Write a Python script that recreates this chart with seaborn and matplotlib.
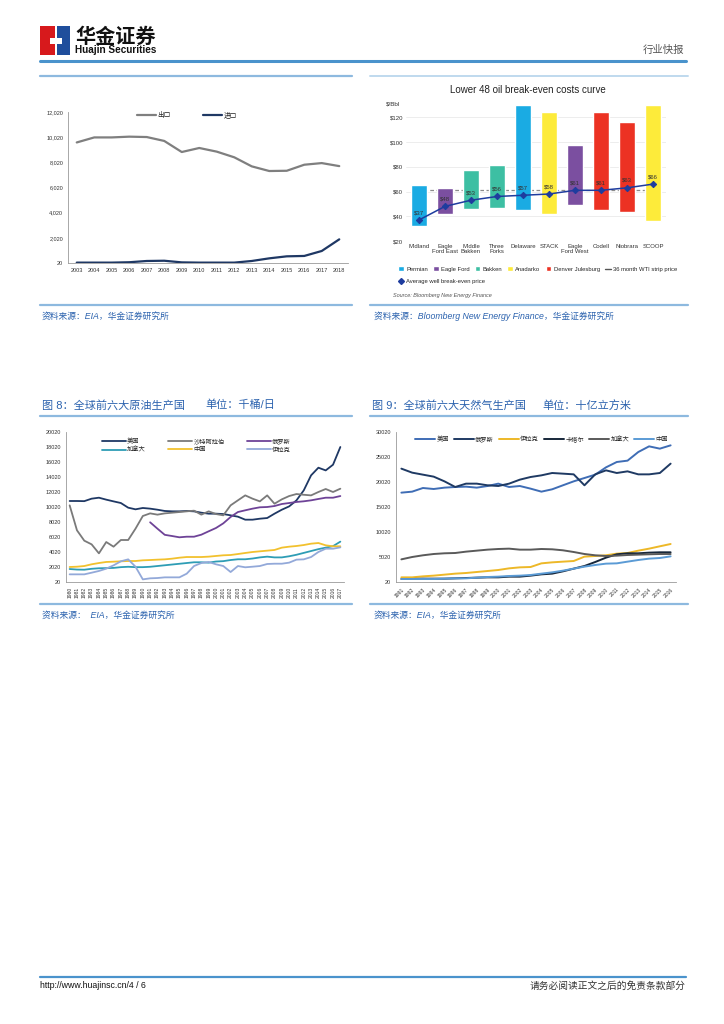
import matplotlib
matplotlib.use("Agg")
import matplotlib.pyplot as plt
from matplotlib.lines import Line2D
from matplotlib.patches import Patch, Rectangle
import numpy as np
import pandas as pd
import seaborn as sns

sns.set_style("white")
plt.rcParams["font.family"] = ["Liberation Sans", "Noto Sans CJK SC", "DejaVu Sans"]
plt.rcParams["axes.unicode_minus"] = False

W, H = 724, 1024

# ---------------- data ----------------
# chart 1: exports / imports
c1_years = list(range(2003, 2019))
c1_export = [9600, 10000, 10000, 10060, 10030, 9720, 8840, 9160, 8870, 8420, 7700, 7330, 7350, 7830, 7960, 7720]
c1_import = [50, 50, 50, 80, 180, 200, 70, 50, 50, 50, 180, 390, 550, 580, 975, 1900]

# chart 2: break-even costs
c2_plays = ["Midland", "Eagle\nFord East", "Middle\nBakken", "Three\nForks", "Delaware",
            "STACK", "Eagle\nFord West", "Codell", "Niobrara", "SCOOP"]
c2_basin = ["Permian", "Eagle Ford", "Bakken", "Bakken", "Permian",
            "Anadarko", "Eagle Ford", "Denver Julesburg", "Denver Julesburg", "Anadarko"]
c2_low = [32, 42, 45.5, 47, 45.3, 41.5, 48.8, 44.8, 43.7, 36.4]
c2_high = [65, 63, 77.5, 81.7, 130, 124, 98, 124.6, 116, 130]
c2_avg = [37, 48, 53, 56, 57, 58, 61, 61, 63, 66]
c2_wti = 61
c2_basin_colors = {"Permian": "#1AABE3", "Eagle Ford": "#7B4FA0", "Bakken": "#3DBFA3",
                   "Anadarko": "#FDEB3A", "Denver Julesburg": "#EC3223"}

# chart 8: crude oil producers, 1980-2017
c8_years = list(range(1980, 2018))
c8_us = [10820, 10820, 10800, 11130, 11260, 11000, 10770, 10550, 9930, 9710,
         9890, 9800, 9660, 9490, 9440, 9440, 9490, 9440, 9260, 9130,
         9130, 9080, 8910, 8730, 8330, 8330, 8460, 8550, 9130, 9660,
         10100, 10900, 12240, 14240, 15260, 14900, 15660, 18020]
c8_saudi = [10240, 6910, 5530, 5040, 3840, 5350, 4730, 5620, 5620, 7130,
            8820, 9170, 9000, 9170, 9260, 9350, 9440, 9530, 9000, 9440,
            9080, 8910, 10240, 10910, 11570, 11130, 10770, 11570, 10460, 11040,
            11480, 11750, 11650, 11570, 12020, 12420, 12020, 12460]
c8_russia = [np.nan] * 11 + [7980, 7130, 6310, 6150, 5980, 6060, 6060, 6330, 6780,
                             7220, 7840, 8690, 9350, 9580, 9800, 9980, 10020, 10150, 10420,
                             10550, 10690, 10780, 10910, 11090, 11260, 11260, 11480]
c8_canada = [1750, 1680, 1660, 1780, 1850, 1870, 1900, 2000, 2050, 2000,
             2000, 2050, 2150, 2250, 2350, 2450, 2550, 2650, 2650, 2600,
             2750, 2800, 2950, 3050, 3050, 3150, 3300, 3400, 3300, 3300,
             3450, 3650, 3900, 4150, 4400, 4600, 4800, 5400]
c8_china = [2020, 2060, 2150, 2380, 2550, 2690, 2730, 2780, 2820, 2820,
            2910, 2950, 3000, 3040, 3130, 3260, 3350, 3350, 3350, 3400,
            3490, 3580, 3620, 3750, 3890, 4020, 4110, 4200, 4290, 4600,
            4730, 4820, 4950, 5130, 5220, 4910, 4780, 4780]
c8_iraq = [1040, 1040, 1040, 1260, 1490, 1800, 2240, 2780, 3040, 2060,
           370, 510, 550, 640, 640, 640, 1130, 2150, 2550, 2690,
           2380, 2150, 1350, 2150, 1980, 2060, 2150, 2420, 2460, 2460,
           2600, 3000, 3040, 3350, 4020, 4460, 4460, 4640]

# chart 9: natural gas producers, 1991-2016
c9_years = list(range(1991, 2017))
c9_us = [17890, 18090, 18820, 18620, 18890, 19020, 19090, 18890, 19220, 19690,
         19020, 19220, 18690, 18090, 18560, 19360, 20150, 20820, 21490, 22950,
         24020, 24290, 26020, 27150, 26690, 27350]
c9_russia = [22690, 21890, 21490, 21090, 20150, 19020, 19690, 19690, 19360, 19220,
             19690, 20490, 21020, 21350, 21820, 21690, 21550, 19360, 21550, 22350,
             21820, 22150, 21550, 21550, 21820, 23690]
c9_iran = [950, 950, 1150, 1290, 1490, 1690, 1820, 2020, 2220, 2420,
           2750, 2950, 3020, 3750, 3950, 4090, 4220, 5090, 5220, 5360,
           5690, 5820, 6290, 6690, 7160, 7620]
c9_qatar = [620, 620, 690, 690, 690, 750, 820, 890, 950, 950,
            1090, 1090, 1290, 1550, 1690, 2150, 2690, 3220, 4020, 4890,
            5560, 5760, 5760, 5890, 5960, 5960]
c9_canada = [4550, 5020, 5360, 5620, 5760, 5820, 6090, 6290, 6490, 6620,
             6690, 6490, 6490, 6620, 6560, 6360, 6020, 5620, 5360, 5220,
             5290, 5420, 5490, 5560, 5620, 5620]
c9_china = [620, 620, 620, 620, 690, 750, 750, 890, 1020, 1090,
            1220, 1290, 1420, 1690, 1950, 2290, 2690, 3090, 3420, 3690,
            3750, 4090, 4420, 4690, 4820, 5150]

BLUE_TXT = "#2B62AE"
RULE = "#8DB9DF"

fig = plt.figure(figsize=(W / 100, H / 100), dpi=100)
fig.patch.set_facecolor("white")


def add_ax(x0, y0, x1, y1):
    return fig.add_axes([x0 / W, 1 - y1 / H, (x1 - x0) / W, (y1 - y0) / H])


def ftext(x, y, s, **kw):
    return fig.text(x / W, 1 - y / H, s, **kw)


def hrule(x0, x1, y, color=RULE, lw=1.6):
    fig.add_artist(Line2D([x0 / W, x1 / W], [1 - y / H, 1 - y / H],
                          transform=fig.transFigure, color=color, lw=lw))


def style_line_axes(ax):
    sns.despine(ax=ax)
    for s in ["left", "bottom"]:
        ax.spines[s].set_color("#9A9A9A")
        ax.spines[s].set_linewidth(0.6)
    ax.tick_params(axis="both", labelsize=4, length=2, width=0.5, color="#9A9A9A",
                   pad=1.5, labelcolor="#333333")


# ---------------- header / footer ----------------
fig.add_artist(Rectangle((40 / W, 1 - 55 / H), 15 / W, 29 / H, transform=fig.transFigure,
                         color="#D7191C", lw=0))
fig.add_artist(Rectangle((57 / W, 1 - 55 / H), 13 / W, 29 / H, transform=fig.transFigure,
                         color="#1F4E9C", lw=0))
fig.add_artist(Rectangle((50 / W, 1 - 44 / H), 12 / W, 6 / H, transform=fig.transFigure,
                         color="white", lw=0))
ftext(75, 36, "华金证券", fontsize=14.5, fontweight="bold", color="#111111", va="center",
      family=["Noto Sans CJK SC"])
ftext(75, 50, "Huajin Securities", fontsize=7.2, fontweight="bold", color="#111111", va="center")
ftext(684, 50, "行业快报", fontsize=7.5, color="#555555", ha="right", va="center")
hrule(40, 686, 61, color="#4A93CC", lw=2.2)

hrule(40, 686, 977, color="#4A93CC", lw=1.6)
ftext(40, 986, "http://www.huajinsc.cn/4 / 6", fontsize=6.3, color="#111111", va="center")
ftext(686, 986, "请务必阅读正文之后的免责条款部分", fontsize=7, color="#333333", ha="right", va="center")

# ---------------- chart 1 ----------------
hrule(40, 352, 76)
ax1 = add_ax(68, 112, 348, 263)
df1 = pd.DataFrame({"year": c1_years * 2,
                    "value": c1_export + c1_import,
                    "kind": ["出口"] * len(c1_years) + ["进口"] * len(c1_years)})
sns.lineplot(data=df1, x="year", y="value", hue="kind", hue_order=["出口", "进口"],
             palette=["#7F7F7F", "#1F3864"], linewidth=1.6, ax=ax1)
ax1.set_xlim(2002.5, 2018.5)
ax1.set_ylim(20, 12020)
ax1.set_yticks(np.arange(20, 12021, 2000))
ax1.set_yticklabels([f"{v:,}" for v in range(20, 12021, 2000)])
ax1.set_xticks(c1_years)
ax1.set_xlabel("")
ax1.set_ylabel("")
style_line_axes(ax1)
ax1.legend(loc="upper center", bbox_to_anchor=(0.425, 1.04), ncol=2, frameon=False,
           fontsize=4.8, handlelength=2.9, columnspacing=4.8, handletextpad=0.2)
hrule(40, 352, 305)
ftext(42, 316, "资料来源：EIA，华金证券研究所", fontsize=6.3, color=BLUE_TXT, va="center",
      style="italic")

# ---------------- chart 2 ----------------
hrule(370, 688, 76, color="#BFD9EE", lw=1.4)
ax2 = add_ax(406, 105, 666, 241)
x2 = np.arange(len(c2_plays))
ax2.hlines(c2_wti, -0.3, len(c2_plays) - 0.7, colors="#8C8C8C", linestyles=(0, (3, 2)),
           lw=0.9, zorder=1)
ax2.bar(x2, np.array(c2_high) - np.array(c2_low), bottom=c2_low, width=0.6,
        color=[c2_basin_colors[b] for b in c2_basin], zorder=2)
df2 = pd.DataFrame({"x": x2, "avg": c2_avg})
sns.lineplot(data=df2, x="x", y="avg", color="#1E3C9E", marker="D", markersize=3.2,
             markeredgecolor="#1E3C9E", linewidth=1.1, ax=ax2, zorder=3)
for xi, v in zip(x2, c2_avg):
    ax2.text(xi, v + 4, f"${v}", ha="center", va="bottom", fontsize=4.3, color="#333333", zorder=4)
ax2.set_xlim(-0.5, len(c2_plays) - 0.5)
ax2.set_ylim(20, 130)
ax2.set_yticks(range(20, 121, 20))
ax2.set_yticklabels([f"${v}" for v in range(20, 121, 20)])
ax2.set_xticks(x2)
ax2.set_xticklabels(c2_plays, linespacing=1.0)
ax2.set_xlabel("")
ax2.set_ylabel("")
ax2.grid(axis="y", color="#E6E6E6", lw=0.5, zorder=0)
ax2.set_axisbelow(True)
for s in ax2.spines.values():
    s.set_visible(False)
ax2.tick_params(axis="both", labelsize=4.3, length=0, pad=2, labelcolor="#333333")
ftext(528, 90, "Lower 48 oil break-even costs curve", fontsize=7, color="#222222",
      ha="center", va="center")
ftext(386, 104, "$/Bbl", fontsize=4.5, color="#333333", va="center")
h_basin = [Patch(facecolor=c2_basin_colors[k], label=k) for k in c2_basin_colors]
h_basin.append(Line2D([], [], color="#555555", lw=1.0, label="36 month WTI strip price"))
leg2 = ax2.legend(handles=h_basin, loc="upper left", bbox_to_anchor=(-0.04, -0.17), ncol=6,
                  frameon=False, fontsize=4.2, handlelength=1.0, handleheight=0.9,
                  handletextpad=0.4, columnspacing=0.85, borderaxespad=0)
ax2.add_artist(leg2)
h_avg = [Line2D([], [], color="#1E3C9E", marker="D", markersize=3, lw=0,
                label="Average well break-even price")]
ax2.legend(handles=h_avg, loc="upper left", bbox_to_anchor=(-0.04, -0.265), frameon=False,
           fontsize=4.2, handlelength=1.0, handletextpad=0.4, borderaxespad=0)
ftext(393, 295, "Source: Bloomberg New Energy Finance", fontsize=4, color="#555555",
      style="italic", va="center")
hrule(370, 688, 305)
ftext(374, 316, "资料来源：Bloomberg New Energy Finance，华金证券研究所", fontsize=6.3,
      color=BLUE_TXT, va="center", style="italic")

# ---------------- chart 8 ----------------
ftext(42, 405, "图 8：全球前六大原油生产国", fontsize=8, color=BLUE_TXT, va="center")
ftext(205, 405, "单位：千桶/日", fontsize=8, color=BLUE_TXT, va="center")
hrule(40, 352, 416)
ax8 = add_ax(66, 432, 344, 582)
c8_names = ["美国", "加拿大", "沙特阿拉伯", "中国", "俄罗斯", "伊拉克"]
c8_series = [c8_us, c8_canada, c8_saudi, c8_china, c8_russia, c8_iraq]
c8_colors = ["#1F3864", "#2E9DB5", "#7A7A7A", "#F2C12E", "#6E4397", "#93A9D9"]
df8 = pd.DataFrame({"year": c8_years * len(c8_names),
                    "value": sum(c8_series, []),
                    "country": sum([[n] * len(c8_years) for n in c8_names], [])})
sns.lineplot(data=df8.dropna(), x="year", y="value", hue="country", hue_order=c8_names,
             palette=c8_colors, linewidth=1.3, ax=ax8)
ax8.set_xlim(1979.5, 2017.5)
ax8.set_ylim(20, 20020)
ax8.set_yticks(np.arange(20, 20021, 2000))
ax8.set_xticks(c8_years)
ax8.set_xticklabels([str(y) for y in c8_years], rotation=90)
ax8.set_xlabel("")
ax8.set_ylabel("")
style_line_axes(ax8)
ax8.tick_params(axis="x", labelsize=3.6)
ax8.legend(loc="upper left", bbox_to_anchor=(0.11, 1.0), ncol=3, frameon=False, fontsize=4.5,
           handlelength=3.8, handletextpad=0.2, columnspacing=3.6, labelspacing=0.5)
hrule(40, 352, 604)
ftext(42, 615, "资料来源：  EIA，华金证券研究所", fontsize=6.3, color=BLUE_TXT, va="center",
      style="italic")

# ---------------- chart 9 ----------------
ftext(372, 405, "图 9：全球前六大天然气生产国", fontsize=8, color=BLUE_TXT, va="center")
ftext(542, 405, "单位：十亿立方米", fontsize=8, color=BLUE_TXT, va="center")
hrule(370, 688, 416)
ax9 = add_ax(396, 432, 676, 582)
c9_names = ["美国", "俄罗斯", "伊拉克", "卡塔尔", "加拿大", "中国"]
c9_series = [c9_us, c9_russia, c9_iran, c9_qatar, c9_canada, c9_china]
c9_colors = ["#3F6DB5", "#1F3A63", "#EDB828", "#17273A", "#5A5A5A", "#5B9BD5"]
df9 = pd.DataFrame({"year": c9_years * len(c9_names),
                    "value": sum(c9_series, []),
                    "country": sum([[n] * len(c9_years) for n in c9_names], [])})
sns.lineplot(data=df9, x="year", y="value", hue="country", hue_order=c9_names,
             palette=c9_colors, linewidth=1.4, ax=ax9)
ax9.set_xlim(1990.5, 2016.5)
ax9.set_ylim(20, 30020)
ax9.set_yticks(np.arange(20, 30021, 5000))
ax9.set_xticks(c9_years)
ax9.set_xticklabels([str(y) for y in c9_years], rotation=45, ha="right", rotation_mode="anchor")
ax9.set_xlabel("")
ax9.set_ylabel("")
style_line_axes(ax9)
ax9.tick_params(axis="x", labelsize=3.6)
ax9.legend(loc="upper center", bbox_to_anchor=(0.52, 1.01), ncol=6, frameon=False, fontsize=4.5,
           handlelength=3.2, handletextpad=0.2, columnspacing=0.8)
hrule(370, 688, 604)
ftext(374, 615, "资料来源：EIA，华金证券研究所", fontsize=6.3, color=BLUE_TXT, va="center",
      style="italic")

fig.savefig("out.png", dpi=100, facecolor="white")
